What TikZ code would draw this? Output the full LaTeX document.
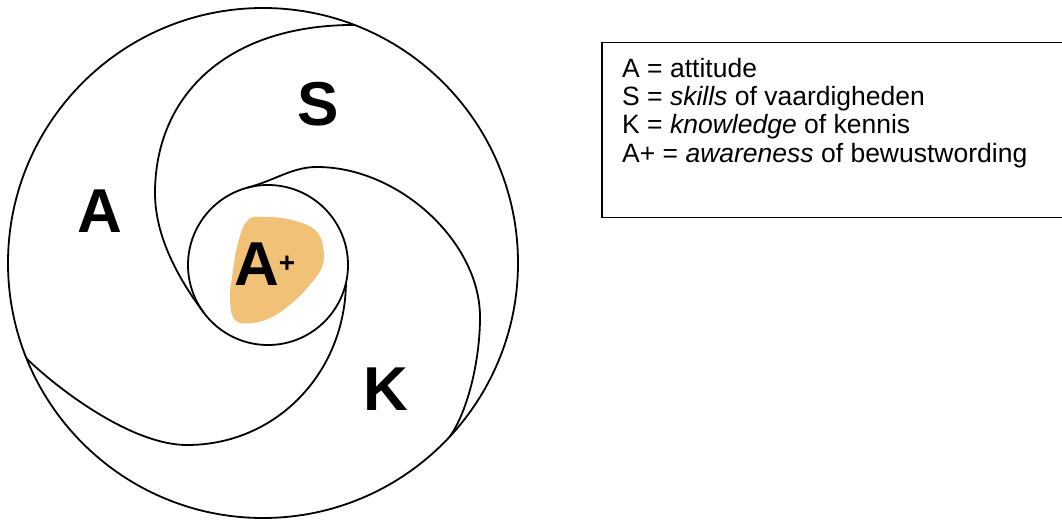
\documentclass[tikz,border=0pt]{standalone}
\usepackage{fontspec}
\setmainfont{Liberation Sans}
\definecolor{blobfill}{RGB}{242,193,120}
\tikzset{
  ring/.style={draw, circle, line width=1.8pt, inner sep=0pt, outer sep=0pt},
  swirl/.style={line width=1.8pt},
  letter/.style={font=\bfseries\fontsize{62}{62}\selectfont, inner sep=0pt, anchor=base},
  legendline/.style={font=\fontsize{26.5}{30}\selectfont, inner sep=0pt, anchor=base west},
}

\begin{document}
\begin{tikzpicture}[x=1pt,y=-1pt]
    \useasboundingbox (0,0) rectangle (1062,521);
    % awareness spot
    \fill[blobfill] plot[smooth cycle, tension=0.7] coordinates {(248,220) (265,217) (292,220) (315,230) (323,247) (322,267) (308,287) (292,303) (272,317) (252,323) (235,320) (230,300) (232,277) (238,243)};

    \node (outer) [ring, minimum size=510pt] at (263,263) {};
    \node (core) [ring, minimum size=160pt] at (268,265) {};

    % the three swirls
    \draw[swirl] (outer.69) .. controls (224,25) and (155,98) .. (155,193)
                 .. controls (155,238) and (180,281) .. (core.217);
    \draw[swirl] (core.105) .. controls (276,180) and (292,167) .. (317,167)
                 .. controls (399,167) and (480,242) .. (480,317)
                 .. controls (480,362) and (467,413) .. (outer.-43);
    \draw[swirl] (outer.202) .. controls (59,390) and (132,445) .. (187,445)
                 .. controls (277,445) and (345,372) .. (core.-13);

    \node (att) [letter] at (100,233) {A};
    \node (skl) [letter] at (318,126) {S};
    \node (knw) [letter] at (386,410) {K};
    \node (awr) [letter, anchor=base west] at (234,285) {A{\fontsize{28}{28}\selectfont\raisebox{13pt}{+}}};

    % legend
    \node (legend) [draw, line width=1.5pt, minimum width=465pt, minimum height=175pt, anchor=north west, inner sep=0pt] at (601,42) {};
    \node (legA) [legendline] at (622,77.3) {A = attitude};
    \node (legS) [legendline] at (622,105.7) {S = \textit{skills} of vaardigheden};
    \node (legK) [legendline] at (622,134) {K = \textit{knowledge} of kennis};
    \node (legP) [legendline] at (622,162.3) {A+ = \textit{awareness} of bewustwording};
\end{tikzpicture}
\end{document}
